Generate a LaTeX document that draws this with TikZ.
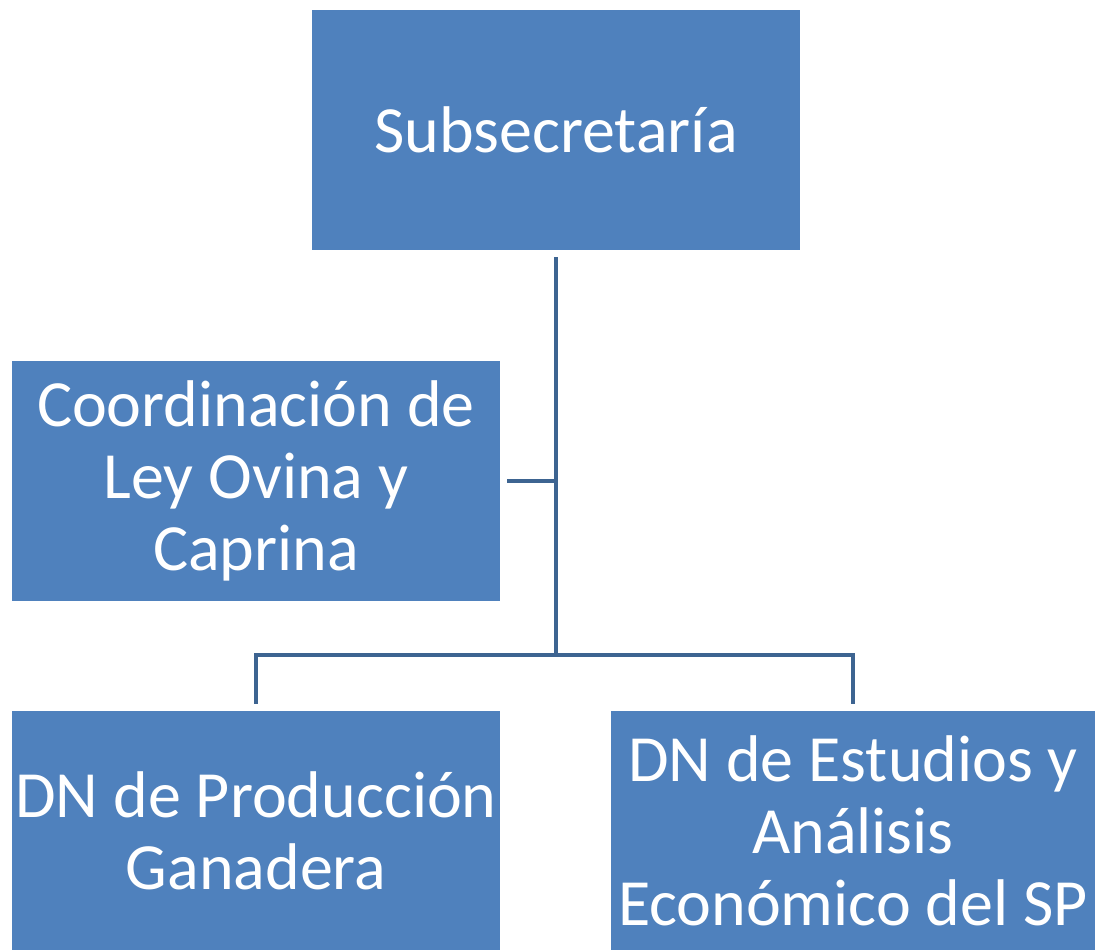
\documentclass[tikz,border=0pt]{standalone}
\usepackage{fontspec}
\setmainfont{Carlito}
\definecolor{boxblue}{HTML}{4F81BD}
\definecolor{lineblue}{HTML}{3D6491}
\tikzset{
  unit/.style={fill=boxblue, draw=none, text=white, align=center,
    minimum width=488pt, minimum height=240pt, inner sep=2pt,
    font=\fontsize{66}{72}\selectfont},
  conn/.style={draw=lineblue, line width=4pt}
}
\begin{document}
\begin{tikzpicture}[x=1pt,y=-1pt]
\useasboundingbox (0,0) rectangle (1095,950);
\node[unit] (sub) at (556,130) {Subsecretaría};
\node[unit] (coord) at (256,481) {Coordinación de\\Ley Ovina y\\Caprina};
\node[unit] (prod) at (256,831) {DN de Producción\\Ganadera};
\node[unit, minimum width=484pt] (est) at (853,831) {DN de Estudios y\\Análisis\\Económico del SP};
\coordinate (bus) at (556,655);
% connectors
\draw[conn] ([yshift=-7pt]sub.south) -- (bus);
\draw[conn] ([xshift=7pt]coord.east) -- (coord.east -| bus);
\draw[conn] ([yshift=7pt]prod.north) |- (bus -| est.north) -- ([yshift=7pt]est.north);
\end{tikzpicture}
\end{document}
